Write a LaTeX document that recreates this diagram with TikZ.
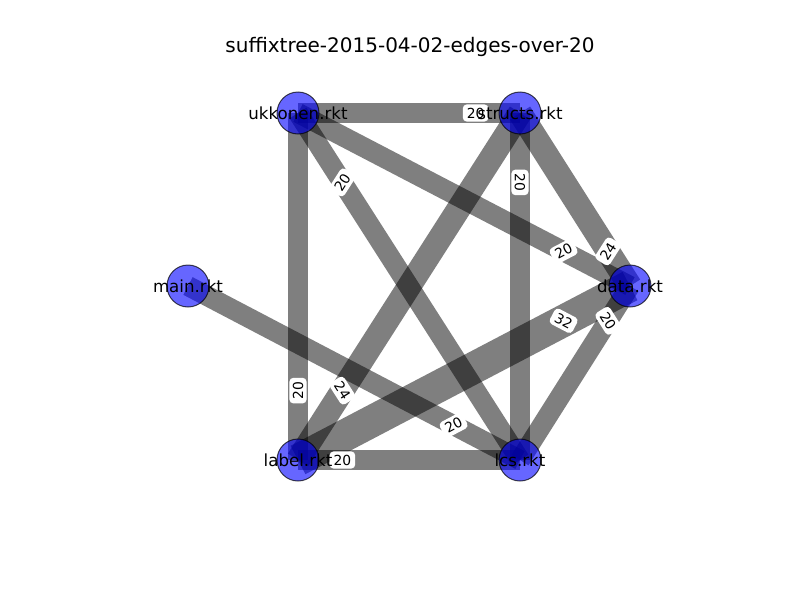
\documentclass[tikz,border=0pt]{standalone}
\usepackage{fontspec}
\setmainfont{DejaVu Sans}

\pgfdeclarelayer{edges}
\pgfdeclarelayer{weights}
\pgfsetlayers{edges,weights,main}

\tikzset{every picture/.style={line width=0.75pt}}
\tikzset{
  module/.style={circle, minimum size=31.5pt, inner sep=0pt, fill={rgb,255:red,0;green,0;blue,255}, fill opacity=0.6, draw=black, draw opacity=0.7, line width=0.75pt},
  modname/.style={font=\fontsize{12.5}{15}\selectfont, inner sep=0pt, fill opacity=0, text opacity=1},
  dep/.style={draw=black, draw opacity=0.5, line width=#1*0.75pt},
  wlabel/.style={fill=white, rounded corners=3pt, sloped, inner xsep=3pt, inner ysep=2.5pt, font=\fontsize{10.4}{12}\selectfont}
}

\begin{document}
\begin{tikzpicture}[x=0.75pt,y=0.75pt,yscale=-1,xscale=1]
\useasboundingbox (0,0) rectangle (800,600);

% Title
\node[font=\fontsize{15}{18}\selectfont] (title) at (410,47) {suffixtree-2015-04-02-edges-over-20};

% Modules
\node[module, label={[modname]center:ukkonen.rkt}] (U) at (298,113) {};
\node[module, label={[modname]center:structs.rkt}] (S) at (520,113) {};
\node[module, label={[modname]center:main.rkt}] (M) at (188,286) {};
\node[module, label={[modname]center:data.rkt}] (D) at (630,286) {};
\node[module, label={[modname]center:label.rkt}] (L) at (298,460) {};
\node[module, label={[modname]center:lcs.rkt}] (C) at (520,460) {};

% Dependencies
\begin{pgfonlayer}{edges}
\draw[dep=20] (U.center) -- (S.center);
\draw[dep=20] (U.center) -- (L.center);
\draw[dep=20] (U.center) -- (C.center);
\draw[dep=20] (U.center) -- (D.center);
\draw[dep=20] (C.center) -- (S.center);
\draw[dep=24] (S.center) -- (D.center);
\draw[dep=24] (L.center) -- (S.center);
\draw[dep=32] (L.center) -- (D.center);
\draw[dep=20] (C.center) -- (D.center);
\draw[dep=20] (M.center) -- (C.center);
\draw[dep=20] (L.center) -- (C.center);
\end{pgfonlayer}

% Edge weights
\begin{pgfonlayer}{weights}
\path (U.center) -- node[wlabel, pos=0.8] (wUS) {20} (S.center);
\path (U.center) -- node[wlabel, pos=0.8] (wUL) {20} (L.center);
\path (U.center) -- node[wlabel, pos=0.2] (wUC) {20} (C.center);
\path (U.center) -- node[wlabel, pos=0.8] (wUD) {20} (D.center);
\path (C.center) -- node[wlabel, pos=0.8] (wCS) {20} (S.center);
\path (S.center) -- node[wlabel, pos=0.8] (wSD) {24} (D.center);
\path (L.center) -- node[wlabel, pos=0.2] (wLS) {24} (S.center);
\path (L.center) -- node[wlabel, pos=0.8] (wLD) {32} (D.center);
\path (C.center) -- node[wlabel, pos=0.8] (wCD) {20} (D.center);
\path (M.center) -- node[wlabel, pos=0.8] (wMC) {20} (C.center);
\path (L.center) -- node[wlabel, pos=0.2] (wLC) {20} (C.center);
\end{pgfonlayer}

\end{tikzpicture}
\end{document}
